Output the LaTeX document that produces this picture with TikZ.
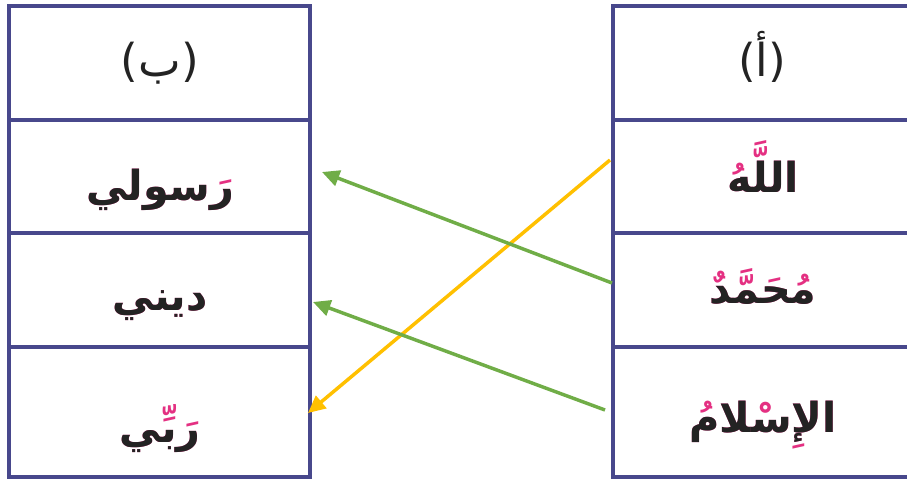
\documentclass[tikz,border=0pt]{standalone}
\usepackage{fontspec}
\usetikzlibrary{arrows.meta}
\TeXXeTstate=1
\newfontfamily\arabicfont[Script=Arabic]{DejaVu Sans}
\definecolor{gridblue}{RGB}{72,72,140}
\definecolor{linkgreen}{RGB}{112,173,71}
\definecolor{linkyellow}{RGB}{255,192,0}
\definecolor{diacr}{RGB}{228,48,130}
\definecolor{inkgray}{RGB}{35,35,35}
\newcommand\artext[1]{\arabicfont\bfseries\beginR #1\endR}
\begin{document}
\begin{tikzpicture}[x=0.75pt,y=-0.75pt,
  gridline/.style={draw=gridblue,line width=2.6pt},
  word/.style={inner sep=0pt,font=\fontsize{31}{34}\selectfont,anchor=base,text=inkgray},
  marks/.style={word,text=diacr},
  header/.style={inner sep=0pt,font=\fontsize{34}{38}\selectfont\arabicfont,anchor=base,text=inkgray},
  greenlink/.style={draw=linkgreen,line width=2.6pt,-{Triangle[length=13pt,width=12pt]}},
  yellowlink/.style={draw=linkyellow,line width=2.6pt,-{Triangle[length=13pt,width=12pt]}}]
\useasboundingbox (0,0) rectangle (907,482);
\clip (0,0) rectangle (907,482);
\fill[white] (0,0) rectangle (907,482);
% left table
\draw[gridline] (9,6) rectangle (310,477);
\draw[gridline] (9,120) -- (310,120);
\draw[gridline] (9,233) -- (310,233);
\draw[gridline] (9,347) -- (310,347);
% right table
\draw[gridline] (613,6) rectangle (920,477);
\draw[gridline] (613,120) -- (920,120);
\draw[gridline] (613,233) -- (920,233);
\draw[gridline] (613,347) -- (920,347);
% headers
\node[header] (hb) at (160,76) {(ب)};
\node[header] (ha) at (762,76) {(أ)};
% left column
\node[marks] (l1m) at (160,200) {\artext{رَسولي}};
\node[word] (l1) at (160,200) {\artext{رسولي}};
\node[marks] (l2m) at (160,310) {\artext{ديني}};
\node[word] (l2) at (160,310) {\artext{ديني}};
\node[marks] (l3m) at (160,442) {\artext{رَبِّي}};
\node[word] (l3) at (160,442) {\artext{ربي}};
% right column
\node[marks] (r1m) at (763,192) {\artext{اللَّهُ}};
\node[word] (r1) at (763,192) {\artext{الله}};
\node[marks] (r2m) at (763,303) {\artext{مُحَمَّدٌ}};
\node[word] (r2) at (763,303) {\artext{محمد}};
\node[marks] (r3m) at (763,432) {\artext{الإِسْلامُ}};
\node[word] (r3) at (763,432) {\artext{الإسلام}};
% connectors
\coordinate (ys) at (610,160);
\coordinate (ye) at (308,413);
\coordinate (g1s) at (612,283);
\coordinate (g1e) at (322,172);
\coordinate (g2s) at (605,410);
\coordinate (g2e) at (313,302);
\draw[yellowlink] (ys) -- (ye);
\draw[greenlink] (g1s) -- (g1e);
\draw[greenlink] (g2s) -- (g2e);
\end{tikzpicture}
\end{document}
